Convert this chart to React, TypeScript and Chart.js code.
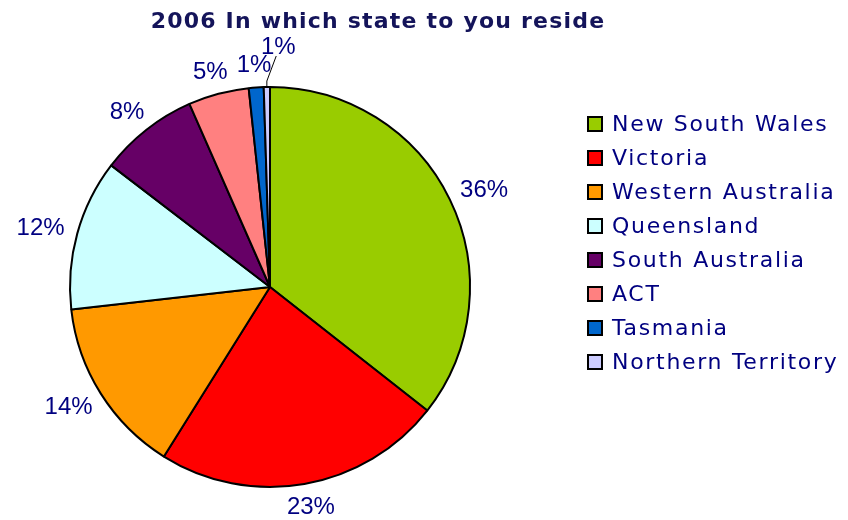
import React, { useEffect, useRef } from "react";
import { Chart, registerables } from "chart.js";

Chart.register(...registerables);

const chartTitle = "2006 In which state to you reside";
const categories = [
  "New South Wales",
  "Victoria",
  "Western Australia",
  "Queensland",
  "South Australia",
  "ACT",
  "Tasmania",
  "Northern Territory",
];
const shares = [35.6, 23.3, 14.3, 12.2, 8.0, 4.9, 1.2, 0.5];
const sliceColors = [
  "#99CC00",
  "#FF0000",
  "#FF9900",
  "#CCFFFF",
  "#660066",
  "#FF8080",
  "#0066CC",
  "#CCCCFF",
];

const NAVY = "#000080";

const overlayPlugin = {
  id: "overlay",
  afterDraw(chart: any) {
    const ctx = chart.ctx as CanvasRenderingContext2D;
    ctx.save();

    // Title
    ctx.font = "bold 22px 'DejaVu Sans'";
    (ctx as any).letterSpacing = "1.2px";
    ctx.fillStyle = "#14145a";
    ctx.textAlign = "center";
    ctx.textBaseline = "alphabetic";
    ctx.fillText(chartTitle, 378, 28);

    // Slice labels
    (ctx as any).letterSpacing = "0px";
    ctx.font = "24px 'Liberation Sans'";
    ctx.fillStyle = NAVY;
    ctx.textAlign = "center";
    ctx.textBaseline = "middle";
    const meta = chart.getDatasetMeta(0);
    const values = chart.data.datasets[0].data as number[];
    const placed: { l: number; r: number; t: number; b: number }[] = [];
    const gap = 14;
    meta.data.forEach((arc: any, i: number) => {
      const p = arc.getProps(["x", "y", "startAngle", "endAngle", "outerRadius"], true);
      const mid = (p.startAngle + p.endAngle) / 2;
      const cx = Math.cos(mid);
      const cy = Math.sin(mid);
      const text = Math.round(values[i]) + "%";
      const w = ctx.measureText(text).width;
      const h = 18;
      let r = p.outerRadius + gap;
      let bx = 0, by = 0;
      let moved = false;
      for (let k = 0; k < 200; k++) {
        bx = p.x + cx * r + (cx * w) / 2;
        by = p.y + cy * r + (cy * h) / 2;
        const box = { l: bx - w / 2, r: bx + w / 2, t: by - h / 2, b: by + h / 2 };
        const hit = placed.some(
          (o) => box.l < o.r - 1 && box.r > o.l + 1 && box.t < o.b && box.b > o.t
        );
        if (!hit) break;
        r += 1;
        moved = true;
      }
      if (moved) {
        bx += w * 0.35;
      }
      placed.push({ l: bx - w / 2, r: bx + w / 2, t: by - h / 2, b: by + h / 2 });
      if (moved) {
        ctx.strokeStyle = "#000";
        ctx.lineWidth = 1;
        const ex = p.x + cx * p.outerRadius;
        const ey = p.y + cy * p.outerRadius;
        ctx.beginPath();
        ctx.moveTo(ex, ey);
        ctx.lineTo(ex, ey - 6);
        ctx.lineTo(bx - 2, by + h / 2 + 1);
        ctx.stroke();
      }
      ctx.fillText(text, bx, by + 1);
    });

    // Legend
    ctx.font = "22px 'DejaVu Sans'";
    (ctx as any).letterSpacing = "1.7px";
    ctx.textAlign = "left";
    ctx.textBaseline = "middle";
    const labels = chart.data.labels as string[];
    const colors = chart.data.datasets[0].backgroundColor as string[];
    labels.forEach((lab, i) => {
      const yc = 124 + i * 34.0;
      ctx.fillStyle = colors[i];
      ctx.fillRect(588, yc - 7, 14, 14);
      ctx.strokeStyle = "#000";
      ctx.lineWidth = 2;
      ctx.strokeRect(588, yc - 7, 14, 14);
      ctx.fillStyle = NAVY;
      ctx.fillText(lab, 612, yc + 1);
    });
    ctx.restore();
  },
};

export default function App() {
  const ref = useRef<HTMLCanvasElement | null>(null);
  useEffect(() => {
    document.body.style.margin = "0";
    if (!ref.current) return;
    const chart = new Chart(ref.current, {
      type: "pie",
      data: {
        labels: categories,
        datasets: [
          {
            data: shares,
            backgroundColor: sliceColors,
            borderColor: "#000000",
            borderWidth: 2,
          },
        ],
      },
      options: {
        responsive: false,
        animation: false,
        layout: { padding: { left: 69, right: 377, top: 86, bottom: 32 } },
        plugins: {
          legend: { display: false },
          title: { display: false },
          tooltip: { enabled: false },
        },
      },
      plugins: [overlayPlugin],
    });
    return () => chart.destroy();
  }, []);
  return (
    <div style={{ width: 848, height: 520, background: "#fff" }}>
      <canvas ref={ref} width={848} height={520} />
    </div>
  );
}
